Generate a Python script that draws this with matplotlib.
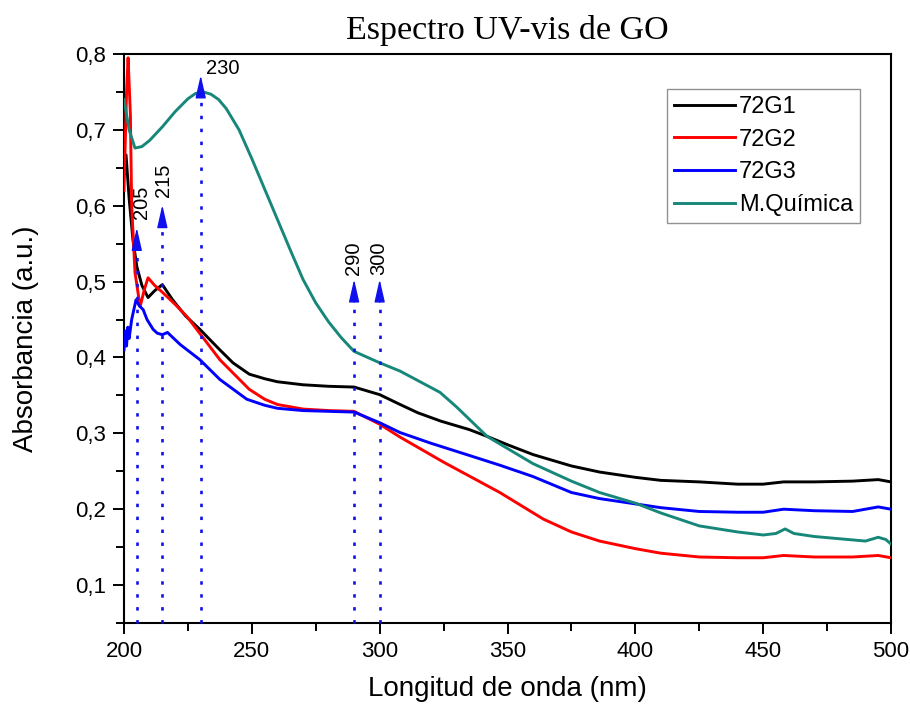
import matplotlib
matplotlib.use("Agg")
import matplotlib.pyplot as plt
from matplotlib.ticker import MultipleLocator, FuncFormatter

# ---- data ----
g1_x = [200, 200.8, 202, 203.5, 205, 207, 209.4, 212, 215, 219, 224, 229.7, 237.5, 242.6, 249, 255, 260, 270, 280, 290, 295, 300, 308, 315, 324, 335, 342, 350, 360, 375, 386, 400, 410, 425, 440, 450, 458, 470, 485, 495, 500]
g1_y = [0.64, 0.667, 0.61, 0.555, 0.52, 0.495, 0.479, 0.488, 0.496, 0.476, 0.455, 0.437, 0.41, 0.393, 0.378, 0.372, 0.368, 0.364, 0.362, 0.361, 0.356, 0.351, 0.338, 0.327, 0.316, 0.305, 0.296, 0.285, 0.272, 0.257, 0.249, 0.242, 0.238, 0.236, 0.233, 0.233, 0.236, 0.236, 0.237, 0.239, 0.236]

g2_x = [200, 201, 201.6, 202.5, 203, 204.3, 206.3, 208, 209.4, 212, 215, 220, 224.6, 230.5, 237.5, 249, 255, 260, 270, 280, 290, 300, 308, 325, 347, 364, 375, 386, 400, 410, 425, 440, 450, 458, 470, 485, 495, 500]
g2_y = [0.62, 0.75, 0.795, 0.72, 0.6, 0.512, 0.467, 0.49, 0.505, 0.495, 0.486, 0.47, 0.454, 0.428, 0.397, 0.358, 0.345, 0.338, 0.332, 0.33, 0.329, 0.312, 0.295, 0.262, 0.222, 0.187, 0.17, 0.158, 0.148, 0.142, 0.137, 0.136, 0.136, 0.139, 0.137, 0.137, 0.139, 0.136]

g3_x = [200, 200.5, 201, 201.5, 202, 203, 204.7, 206, 207.5, 209, 211.4, 213, 215, 217, 222, 229.7, 237.5, 248, 255, 260, 270, 280, 290, 300, 308, 320, 334, 347, 360, 375, 386, 400, 410, 425, 440, 450, 458, 470, 485, 495, 500]
g3_y = [0.41, 0.435, 0.415, 0.44, 0.425, 0.45, 0.476, 0.468, 0.463, 0.45, 0.437, 0.432, 0.43, 0.433, 0.417, 0.397, 0.371, 0.345, 0.337, 0.333, 0.33, 0.329, 0.328, 0.314, 0.301, 0.287, 0.272, 0.258, 0.243, 0.222, 0.214, 0.207, 0.202, 0.197, 0.196, 0.196, 0.2, 0.198, 0.197, 0.203, 0.2]

mq_x = [200, 202, 204.3, 207, 210, 215, 220, 225, 228, 231, 234, 237, 240, 245, 250, 255, 260, 265, 270, 275, 280, 285, 290, 300, 308, 323.6, 330, 342, 360, 375, 386, 400, 410, 425, 440, 450, 455, 458.6, 462, 470, 480, 490, 495, 498, 500]
mq_y = [0.74, 0.70, 0.676, 0.678, 0.686, 0.704, 0.724, 0.741, 0.748, 0.75, 0.747, 0.74, 0.728, 0.70, 0.662, 0.622, 0.582, 0.542, 0.503, 0.472, 0.447, 0.426, 0.408, 0.393, 0.382, 0.354, 0.335, 0.296, 0.26, 0.237, 0.222, 0.208, 0.195, 0.178, 0.17, 0.166, 0.168, 0.174, 0.168, 0.164, 0.161, 0.158, 0.163, 0.16, 0.154]

labels = ["72G1", "72G2", "72G3", "M.Química"]
colors = ["#000000", "#ff0000", "#0000ff", "#17877a"]

peak_x = [205, 215, 230, 290, 300]
peak_base = [0.551, 0.579, 0.75, 0.474, 0.474]
peak_tip = [0.571, 0.601, 0.772, 0.503, 0.503]
peak_labels = ["205", "215", "230", "290", "300"]
label_pos = [(206.8, 0.604, 90), (215.3, 0.633, 90), (232.0, 0.781, 0), (289.6, 0.531, 90), (299.8, 0.531, 90)]

# ---- figure ----
plt.rcParams['font.family'] = ['Liberation Sans', 'DejaVu Sans']
fig = plt.figure(figsize=(9.10, 7.08), dpi=100)
ax = fig.add_axes([124/910, 1 - 623/708, (891 - 124)/910, (623 - 54)/708])

for xs, ys, lab, c in zip([g1_x, g2_x, g3_x, mq_x], [g1_y, g2_y, g3_y, mq_y], labels, colors):
    ax.plot(xs, ys, color=c, lw=2.1, label=lab, zorder=3)

for px, b, t in zip(peak_x, peak_base, peak_tip):
    ax.plot([px, px], [0.05, b], color="#1010ee", lw=1.9, dashes=(1.3, 3.6), zorder=4, clip_on=False)
    ax.annotate("", xy=(px, t), xytext=(px, b - 0.001),
                arrowprops=dict(arrowstyle="-|>,head_length=1.4,head_width=0.32",
                                color="#1010ee", lw=1.0, shrinkA=0, shrinkB=0,
                                mutation_scale=10), zorder=5)

for (lx, ly, rot), txt in zip(label_pos, peak_labels):
    if rot == 90:
        ax.text(lx, ly, txt, rotation=90, ha="center", va="center", fontsize=14.5)
    else:
        ax.text(lx, ly, txt, ha="left", va="center", fontsize=14.5)

ax.set_xlim(200, 500)
ax.set_ylim(0.05, 0.8)
ax.xaxis.set_major_locator(MultipleLocator(50))
ax.xaxis.set_minor_locator(MultipleLocator(25))
ax.yaxis.set_major_locator(MultipleLocator(0.1))
ax.yaxis.set_minor_locator(MultipleLocator(0.05))
ax.yaxis.set_major_formatter(FuncFormatter(lambda v, p: ("%.1f" % v).replace(".", ",")))
ax.tick_params(which="major", direction="out", length=8, width=1.4, labelsize=16, pad=5)
ax.tick_params(which="minor", direction="out", length=6, width=1.4)
for s in ax.spines.values():
    s.set_linewidth(1.5)

ax.set_xlabel("Longitud de onda (nm)", fontsize=20, labelpad=10)
ax.set_ylabel("Absorbancia (a.u.)", fontsize=20, labelpad=26)
fig.text(0.5 * (124 + 891) / 910, 1 - 31/708, "Espectro UV-vis de GO",
         ha="center", va="center", fontsize=24.5, family=["Liberation Serif", "DejaVu Serif"])

leg = ax.legend(loc="upper left", bbox_to_anchor=((667 - 124)/767, (623 - 89)/569),
                fontsize=17, frameon=True, fancybox=False, handlelength=2.6,
                handletextpad=0.15, labelspacing=0.45, borderpad=0.3, borderaxespad=0)
leg.get_frame().set_edgecolor("#777777")
leg.get_frame().set_linewidth(1.0)

fig.savefig("out.png", dpi=100)
